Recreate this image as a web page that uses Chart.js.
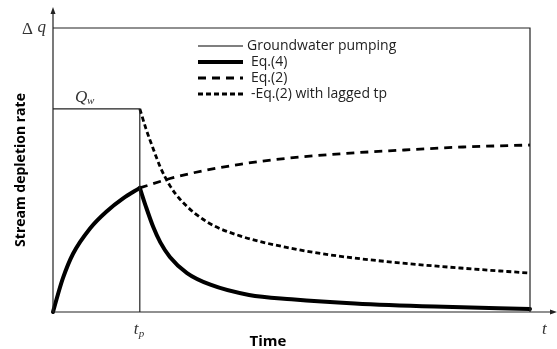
<!DOCTYPE html>
<html>
<head>
<meta charset="utf-8">
<script src="https://cdn.jsdelivr.net/npm/chart.js@4.4.0/dist/chart.umd.min.js"></script>
<style>
  html, body { margin: 0; padding: 0; background: #fff; }
  #chart { display: block; }
</style>
</head>
<body>
<canvas id="chart" width="557" height="349"></canvas>
<script>
// values (time 0..100, rate with dq = 100)
var tp = 18.2;
var qw = 71.5;
var dq = 100;

var pumpTime = [0, tp, tp];
var pumpRate = [qw, qw, 0];

var eq4RiseTime = [0, 1, 2.1, 4.2, 7.8, 11.3, 14.7, tp];
var eq4RiseRate = [0, 6, 12, 20.5, 29.5, 35.5, 40, 43.7];

var eq4FallTime = [tp, 19.5, 21, 22.5, 24.5, 28.1, 33, 41.1, 50, 63.3, 80, 100];
var eq4FallRate = [43.7, 37, 30, 24.5, 19.4, 13.7, 9.6, 6.0, 4.5, 3.0, 1.9, 1.1];

var eq2Time = [tp, 25.2, 32.3, 39.2, 46.1, 60.2, 72.1, 86.0, 100];
var eq2Rate = [43.7, 47.3, 50.0, 52.0, 53.6, 55.7, 56.9, 58.1, 58.8];

var lagTime = [tp, 19.5, 21, 22.5, 24.5, 27, 32.3, 39.2, 49.7, 58.1, 72.1, 86.0, 100];
var lagRate = [71.5, 64.5, 57.5, 51, 44.5, 39, 31.7, 26.8, 22.5, 20.1, 17.4, 15.4, 13.7];

var legendNames = ['Groundwater pumping', 'Eq.(4)', 'Eq.(2)', '-Eq.(2) with lagged tp'];

function pts(xs, ys) {
    return xs.map(function (x, i) { return {x: x, y: ys[i]}; });
}

var styles = [
    {width: 1.2, dash: []},
    {width: 4, dash: []},
    {width: 2.8, dash: [8, 6]},
    {width: 2.8, dash: [5, 3]}
];

// axes, frame, labels and legend
var decor = {
    id: 'decor',
    afterDatasetsDraw: function (chart) {
        var ctx = chart.ctx;
        var xs = chart.scales.x, ys = chart.scales.y;
        var x0 = xs.getPixelForValue(0), x1 = xs.getPixelForValue(100);
        var y0 = ys.getPixelForValue(0), y1 = ys.getPixelForValue(dq);
        ctx.save();
        ctx.strokeStyle = '#222';
        ctx.fillStyle = '#222';
        ctx.lineWidth = 1.2;
        ctx.beginPath();
        ctx.moveTo(x0, y0); ctx.lineTo(x0, 10);
        ctx.moveTo(x0, y0); ctx.lineTo(554, y0);
        ctx.moveTo(x0, y1); ctx.lineTo(x1, y1); ctx.lineTo(x1, y0);
        ctx.stroke();
        // arrow heads
        ctx.beginPath();
        ctx.moveTo(x0, 7); ctx.lineTo(x0 - 2.5, 14); ctx.lineTo(x0 + 2.5, 14); ctx.closePath();
        ctx.moveTo(557, y0); ctx.lineTo(550, y0 - 2.5); ctx.lineTo(550, y0 + 2.5); ctx.closePath();
        ctx.fill();

        // math labels
        ctx.fillStyle = '#333';
        ctx.textBaseline = 'alphabetic';
        ctx.font = '17px "Liberation Serif"';
        ctx.textAlign = 'right';
        ctx.fillText('\u0394', x0 - 20, y1 + 6);
        ctx.font = 'italic 17px "Liberation Serif"';
        ctx.fillText('q', x0 - 7, y1 + 4);
        ctx.textAlign = 'left';
        var qy = ys.getPixelForValue(qw);
        ctx.fillText('Q', 75, qy - 7);
        ctx.font = 'italic 11px "Liberation Serif"';
        ctx.fillText('w', 87, qy - 5);
        var tx = xs.getPixelForValue(tp);
        ctx.font = 'italic 17px "Liberation Serif"';
        ctx.fillText('t', tx - 6, y0 + 22);
        ctx.font = 'italic 11px "Liberation Serif"';
        ctx.fillText('p', tx - 1, y0 + 25);
        ctx.font = 'italic 17px "Liberation Serif"';
        ctx.fillText('t', 542, y0 + 22);

        // axis titles
        ctx.fillStyle = '#000';
        ctx.font = 'bold 15px "Open Sans"';
        ctx.textAlign = 'center';
        ctx.fillText('Time', 268, y0 + 34);
        ctx.save();
        ctx.translate(25, 170);
        ctx.rotate(-Math.PI / 2);
        ctx.font = 'bold 14px "Open Sans"';
        ctx.fillText('Stream depletion rate', 0, 0);
        ctx.restore();

        // legend
        ctx.font = '14px "Open Sans"';
        ctx.textAlign = 'left';
        ctx.textBaseline = 'middle';
        legendNames.forEach(function (name, i) {
            var ly = 46 + i * 16;
            var st = styles[i];
            ctx.strokeStyle = '#000';
            ctx.lineWidth = st.width;
            ctx.setLineDash(st.dash);
            ctx.beginPath();
            ctx.moveTo(198, ly); ctx.lineTo(243, ly);
            ctx.stroke();
            ctx.fillStyle = '#222';
            ctx.fillText(name, i === 0 ? 247 : 251, ly);
        });
        ctx.restore();
    }
};

function lineSet(data, st, extra) {
    var d = {
        data: data,
        borderColor: '#000',
        borderWidth: st.width,
        borderDash: st.dash,
        pointRadius: 0,
        fill: false,
        cubicInterpolationMode: 'monotone',
        clip: false
    };
    for (var k in extra) d[k] = extra[k];
    return d;
}

var config = {
    type: 'line',
    data: {
        datasets: [
            lineSet(pts(pumpTime, pumpRate), styles[0], {borderColor: '#222', cubicInterpolationMode: 'default', tension: 0}),
            lineSet(pts(eq4RiseTime, eq4RiseRate), styles[1], {borderCapStyle: 'round'}),
            lineSet(pts(eq4FallTime, eq4FallRate), styles[1], {borderCapStyle: 'round'}),
            lineSet(pts(eq2Time, eq2Rate), styles[2], {}),
            lineSet(pts(lagTime, lagRate), styles[3], {})
        ]
    },
    options: {
        responsive: false,
        animation: false,
        layout: {padding: {left: 53, right: 27, top: 28, bottom: 37}},
        scales: {
            x: {type: 'linear', min: 0, max: 100, display: false},
            y: {type: 'linear', min: 0, max: 100, display: false}
        },
        plugins: {
            legend: {display: false},
            tooltip: {enabled: false}
        }
    },
    plugins: [decor]
};

var ctx = document.getElementById('chart').getContext('2d');
window.myLine = new Chart(ctx, config);
</script>
</body>
</html>
